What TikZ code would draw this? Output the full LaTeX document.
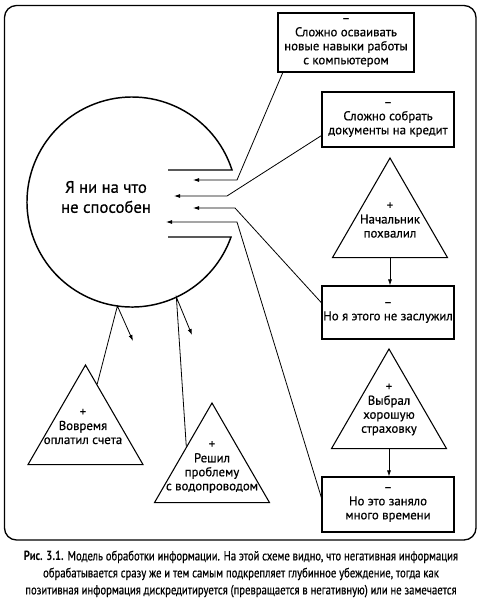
\documentclass[tikz,border=0pt]{standalone}
\usepackage{fontspec}
\setmainfont{PT Sans}[UprightFeatures={FakeBold=0.6}]
\newfontfamily\capfont{PT Sans}[FakeStretch=0.8,UprightFeatures={FakeBold=0.6}]
\usetikzlibrary{arrows.meta,shapes.geometric,calc}

\begin{document}
\begin{tikzpicture}[x=0.75pt,y=-0.75pt,
 box/.style={draw,line width=0.8pt,align=center,inner sep=0pt,font=\fontsize{9.6}{10.5}\selectfont},
 tri/.style={draw,line width=0.8pt,regular polygon,regular polygon sides=3,minimum size=99.6pt,inner sep=0pt},
 txt/.style={align=center,font=\fontsize{9.6}{10.5}\selectfont},
 arr/.style={line width=0.6pt,-{Latex[length=4.5pt,width=3pt]}}]
 \useasboundingbox (0,0) rectangle (481,600);
 \draw[line width=1pt,rounded corners=9pt] (4.5,5.5) rectangle (476,540);
 % the open circle
 \coordinate (o) at (132,202);
 \draw[line width=1.1pt] (168,170) -- (232,170) arc[start angle=-17.75,end angle=-340.53,radius=105] -- (168,237);
 \node[align=center,font=\fontsize{12.5}{15}\selectfont] (me) at (106,197) {Я ни на что\\не способен};
 % negative
 \node[box,minimum width=102pt,minimum height=44.25pt] (b1) at (346,42.5) {–\\Сложно осваивать\\новые навыки работы\\с компьютером};
 \node[box,minimum width=99pt,minimum height=41.25pt] (b2) at (388,119.5) {–\\Сложно собрать\\документы на кредит};
 \node[box,minimum width=99pt,minimum height=39.75pt] (b3) at (388,312.5) {–\\Но я этого не заслужил};
 \node[box,minimum width=99pt,minimum height=41.25pt] (b4) at (388,504.5) {–\\Но это заняло\\много времени};
 % positive
 \node[tri] (t1) at (390,224.4) {};
 \node[txt] (t1t) at (390,220) {+\\Начальник\\похвалил};
 \node[tri] (t2) at (389,415.4) {};
 \node[txt] (t2t) at (389,409.5) {+\\Выбрал\\хорошую\\страховку};
 \node[tri] (t3) at (85.5,431.4) {};
 \node[txt] (t3t) at (83,426.5) {+\\Вовремя\\оплатил счета};
 \node[tri] (t4) at (212,469.4) {};
 \node[txt] (t4t) at (212,467) {+\\Решил\\проблему\\с водопроводом};
 % into the circle
 \coordinate (k1) at (237,180); \coordinate (e1) at (193,180);
 \coordinate (k2) at (227,196); \coordinate (e2) at (174,196);
 \coordinate (k3) at (235,208); \coordinate (e3) at (193,208);
 \coordinate (k4) at (237,222); \coordinate (e4) at (166,222);
 \draw[arr] ([xshift=4pt]b1.south west) -- (k1) -- (e1);
 \draw[arr] ([yshift=9pt]b2.south west) -- (k2) -- (e2);
 \draw[arr] ([yshift=-13pt]b3.north west) -- (k3) -- (e3);
 \draw[arr] ([yshift=-16pt]b4.north west) -- (k4) -- (e4);
 \draw[arr] (t1.side 2) -- (t1.side 2 |- b3.north);
 \draw[arr] (t2.side 2) -- (t2.side 2 |- b4.north);
 % bounced off
 \coordinate (c3) at ($(o)+(98:105)$); \coordinate (d3) at (133,341);
 \coordinate (c4) at ($(o)+(65:105)$); \coordinate (d4) at (192,335);
 \draw[arr] ($(t3.corner 1)!0.2!(t3.corner 3)$) -- (c3) -- (d3);
 \draw[arr] ($(t4.corner 1)!0.44!(t4.corner 2)$) -- (c4) -- (d4);
 \node[align=center,font=\capfont\fontsize{10}{12.75}\selectfont] (cap) at (241,574) {\textbf{Рис. 3.1.} Модель обработки информации. На этой схеме видно, что негативная информация\\обрабатывается сразу же и тем самым подкрепляет глубинное убеждение, тогда как\\позитивная информация дискредитируется (превращается в негативную) или не замечается};
\end{tikzpicture}
\end{document}
